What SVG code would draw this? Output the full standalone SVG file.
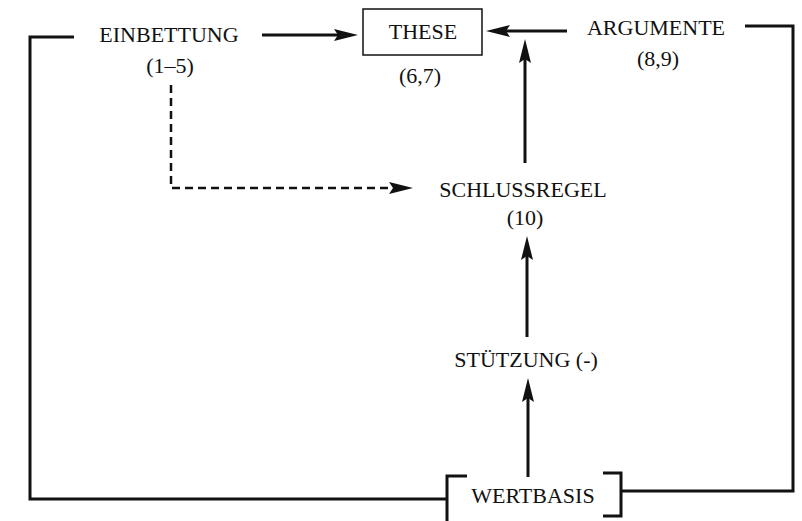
<svg xmlns="http://www.w3.org/2000/svg" width="802" height="521" viewBox="0 0 802 521">
<style>
  text { font-family: "Liberation Serif", "Times New Roman", serif; font-size: 22px; fill: #111; text-anchor: middle; }
  .ln { fill: none; stroke: #111; stroke-width: 3; }
  .dash { fill: none; stroke: #111; stroke-width: 2.5; stroke-dasharray: 8 5; }
  .box { fill: #fff; stroke: #111; stroke-width: 1.5; }
</style>
<defs>
  <marker id="ah" viewBox="0 0 24 12" refX="12" refY="6" markerWidth="24" markerHeight="12" markerUnits="userSpaceOnUse" orient="auto">
    <path d="M0,0 L24,6 L0,12 L4,6 Z" fill="#111"/>
  </marker>
</defs>
<g id="connectors">
  <path class="ln" d="M262,35 H346" marker-end="url(#ah)"/>
  <path class="ln" d="M567,31 H498" marker-end="url(#ah)"/>
  <path class="ln" d="M525,163 V51" marker-end="url(#ah)"/>
  <path class="ln" d="M527,337 V248" marker-end="url(#ah)"/>
  <path class="ln" d="M528,477 V390" marker-end="url(#ah)"/>
  <path class="dash" d="M171,85 V188 H401" marker-end="url(#ah)"/>
  <path class="ln" d="M74,37 H30 V499 H447"/>
  <path class="ln" d="M621,491 H793 V26 H745"/>
</g>
<g id="einbettung">
  <text x="169" y="42">EINBETTUNG</text>
  <text x="170" y="73">(1–5)</text>
</g>
<g id="these">
  <rect class="box" x="363" y="9" width="119" height="46"/>
  <text x="423" y="39">THESE</text>
  <text x="420" y="83">(6,7)</text>
</g>
<g id="argumente">
  <text x="656" y="35">ARGUMENTE</text>
  <text x="658" y="66">(8,9)</text>
</g>
<g id="schlussregel">
  <text x="523" y="197">SCHLUSSREGEL</text>
  <text x="525" y="225">(10)</text>
</g>
<g id="stuetzung">
  <text x="526" y="367">STÜTZUNG (-)</text>
</g>
<g id="wertbasis">
  <path class="ln" d="M467,476 H447 V521"/>
  <path class="ln" d="M603,473 H621 V516 H603"/>
  <text x="533" y="503">WERTBASIS</text>
</g>
</svg>
